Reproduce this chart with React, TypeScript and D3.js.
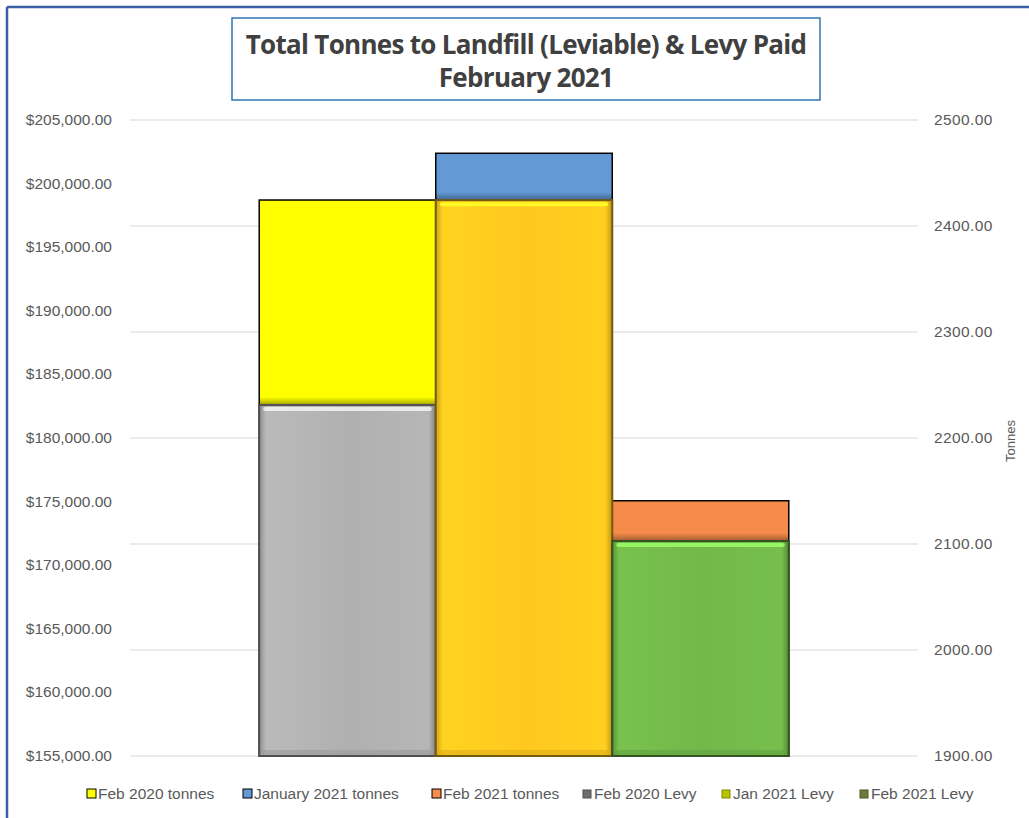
import React from "react";
import * as d3 from "d3";

const categories = ["Feb 2020", "Jan 2021", "Feb 2021"];
const tonnesSeries = ["Feb 2020 tonnes", "January 2021 tonnes", "Feb 2021 tonnes"];
const tonnesValues = [2424.5, 2468.6, 2140.8];
const levySeries = ["Feb 2020 Levy", "Jan 2021 Levy", "Feb 2021 Levy"];
const levyValues = [182600, 198700, 171900];
const leftTicks = [155000, 160000, 165000, 170000, 175000, 180000, 185000, 190000, 195000, 200000, 205000];
const rightTicks = [1900, 2000, 2100, 2200, 2300, 2400, 2500];
const titleLines = ["Total Tonnes to Landfill (Leviable) & Levy Paid", "February 2021"];

const tonnesColors = ["#ffff00", "#639ad6", "#f58c4b"];
const levyColors = ["#b0b0b0", "#ffc81e", "#72b84a"];
const legendLevyMarkers = ["#6f6f6f", "#b8c400", "#6b7b3a"];

const W = 1029;
const H = 818;
const plotL = 130;
const plotR = 918;
const plotT = 120;
const plotB = 756;

export default function App() {
  const x = d3.scaleBand<string>().domain(categories).range([plotL, plotR]).paddingInner(0).paddingOuter(0.732);
  const yL = d3.scaleLinear().domain([155000, 205000]).range([plotB, plotT]);
  const yR = d3.scaleLinear().domain([1900, 2500]).range([plotB, plotT]);
  const fmtL = (v: number) => "$" + d3.format(",.2f")(v);
  const fmtR = d3.format(".2f");
  const font = "'Liberation Sans', Arial, sans-serif";
  const bw = x.bandwidth();

  const legendItems = [
    ...tonnesSeries.map((s, i) => ({ label: s, color: tonnesColors[i], kind: "t" })),
    ...levySeries.map((s, i) => ({ label: s, color: legendLevyMarkers[i], kind: "l" })),
  ];
  const legendX = [87, 243, 432, 583, 722, 860];

  return (
    <svg width={W} height={H} style={{ position: "absolute", left: 0, top: 0, background: "#fff" }} fontFamily={font}>
      <defs>
        {levyColors.map((c, i) => {
          const col = d3.color(c)!;
          return (
            <linearGradient key={i} id={`lg${i}`} x1="0" x2="1" y1="0" y2="0">
              <stop offset="0" stopColor={col.darker(0.6).formatHex()} />
              <stop offset="0.04" stopColor={col.brighter(0.15).formatHex()} />
              <stop offset="0.5" stopColor={c} />
              <stop offset="0.96" stopColor={col.brighter(0.1).formatHex()} />
              <stop offset="1" stopColor={col.darker(0.8).formatHex()} />
            </linearGradient>
          );
        })}
        <linearGradient id="shade" x1="0" x2="0" y1="0" y2="1">
          <stop offset="0" stopColor="#000" stopOpacity="0" />
          <stop offset="1" stopColor="#000" stopOpacity="0.35" />
        </linearGradient>
      </defs>
      {/* outer border */}
      <line x1={7} y1={7} x2={W} y2={7} stroke="#3a5da6" strokeWidth={2.5} />
      <line x1={7} y1={7} x2={7} y2={H} stroke="#3a5da6" strokeWidth={2.5} />

      {/* title */}
      <rect x={232} y={18} width={588} height={82} fill="#fff" stroke="#2e75b6" strokeWidth={1.5} />
      {titleLines.map((t, i) => (
        <text key={i} x={526} y={54 + i * 33} textAnchor="middle" fontSize={26} fontWeight="bold" fill="#404040"
          fontFamily="'Open Sans', sans-serif" letterSpacing={-0.7}>
          {t}
        </text>
      ))}

      {/* gridlines */}
      {rightTicks.map((t) => (
        <line key={t} x1={plotL} x2={plotR} y1={yR(t)} y2={yR(t)} stroke="#d9d9d9" strokeWidth={1.2} />
      ))}

      {/* left axis labels */}
      {leftTicks.map((t) => (
        <text key={t} x={112} y={yL(t) + 5} textAnchor="end" fontSize={15.5} fill="#595959">
          {fmtL(t)}
        </text>
      ))}
      {/* right axis labels */}
      {rightTicks.map((t) => (
        <text key={t} x={934} y={yR(t) + 5} textAnchor="start" fontSize={15.5} fill="#595959" letterSpacing={0.4}>
          {fmtR(t)}
        </text>
      ))}
      <text transform={`translate(1015, ${(plotT + plotB) / 2 + 3}) rotate(-90)`} textAnchor="middle" fontSize={13} fill="#595959">
        Tonnes
      </text>

      {/* tonnes bars (secondary axis) */}
      {categories.map((c, i) => (
        <rect key={c} x={x(c)!} y={yR(tonnesValues[i])} width={bw} height={plotB - yR(tonnesValues[i])}
          fill={tonnesColors[i]} stroke="#000" strokeWidth={1.5} />
      ))}

      {/* levy bars (primary axis) */}
      {categories.map((c, i) => {
        const x0 = x(c)!;
        const y0 = yL(levyValues[i]);
        const h = plotB - y0;
        const col = d3.color(levyColors[i])!;
        return (
          <g key={c}>
            <rect x={x0} y={y0 - 8} width={bw} height={8} fill="url(#shade)" />
            <rect x={x0} y={y0} width={bw} height={h} fill={`url(#lg${i})`} stroke={col.darker(2.2).formatHex()} strokeWidth={2} />
            <rect x={x0 + 4} y={y0 + 2} width={bw - 8} height={4} rx={2} fill={col.brighter(0.9).formatHex()} opacity={0.85} />
            <rect x={x0 + 2} y={plotB - 6} width={bw - 4} height={5} fill={col.darker(0.4).formatHex()} opacity={0.6} />
          </g>
        );
      })}

      {/* legend */}
      {legendItems.map((it, i) => (
        <g key={it.label} transform={`translate(${legendX[i]}, 794)`}>
          {it.kind === "t" ? (
            <rect x={0} y={-5} width={9} height={9} fill={it.color} stroke="#000" strokeWidth={1} />
          ) : (
            <rect x={0} y={-4} width={8} height={8} fill={it.color} stroke={d3.color(it.color)!.darker(1).formatHex()} strokeWidth={1} />
          )}
          <text x={it.kind === "t" ? 11 : 11} y={5} fontSize={15.5} fill="#595959">
            {it.label}
          </text>
        </g>
      ))}
    </svg>
  );
}
